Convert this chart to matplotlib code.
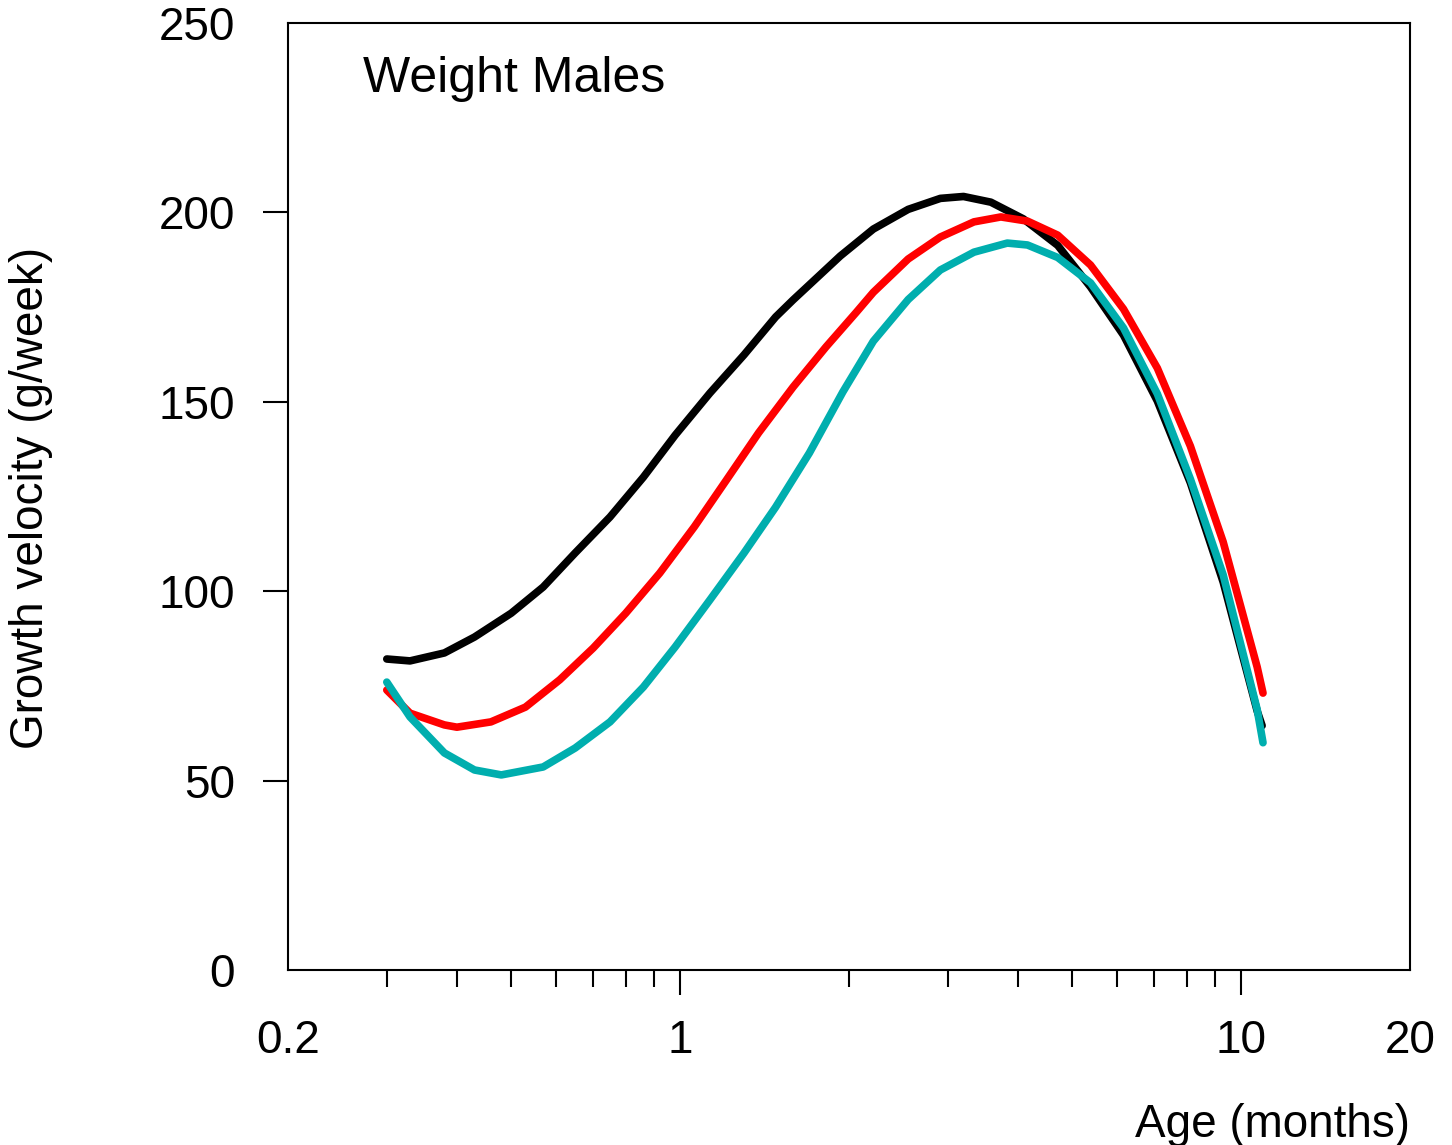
import matplotlib
matplotlib.use("Agg")
import matplotlib.pyplot as plt
from matplotlib.ticker import FixedLocator, NullFormatter

plt.rcParams['font.family'] = ['Liberation Sans', 'DejaVu Sans']

# curves (age in months, velocity in g/week)
black_age = [0.30, 0.33, 0.38, 0.43, 0.50, 0.57, 0.65, 0.75, 0.86, 0.98, 1.13, 1.30,
             1.48, 1.59, 1.93, 2.21, 2.55, 2.91, 3.20, 3.58, 4.09, 4.71, 5.39, 6.17,
             7.09, 8.12, 9.29, 10.68, 10.90]
black_vel = [82.1, 81.6, 83.7, 87.9, 94.2, 101.1, 110.1, 119.6, 130.1, 141.2, 152.3, 162.4,
             172.4, 176.9, 188.5, 195.6, 200.8, 203.7, 204.2, 202.7, 198.3, 191.3, 180.3, 167.6,
             150.2, 128.6, 102.4, 68.4, 64.5]

red_age = [0.30, 0.33, 0.38, 0.40, 0.46, 0.53, 0.61, 0.70, 0.80, 0.92, 1.06, 1.21,
           1.38, 1.59, 1.82, 2.06, 2.21, 2.55, 2.91, 3.34, 3.73, 4.16, 4.71, 5.39,
           6.17, 7.09, 8.12, 9.29, 10.68, 10.94]
red_vel = [73.9, 67.8, 64.7, 64.1, 65.5, 69.4, 76.6, 85.0, 94.2, 104.8, 117.0, 129.4,
           141.8, 153.9, 164.5, 173.6, 178.9, 187.7, 193.5, 197.5, 198.8, 197.7, 194.0, 186.1,
           174.5, 158.9, 138.3, 113.0, 80.0, 73.1]

teal_age = [0.30, 0.33, 0.38, 0.43, 0.48, 0.57, 0.65, 0.75, 0.86, 0.98, 1.13, 1.30,
            1.48, 1.70, 1.95, 2.21, 2.55, 2.91, 3.34, 3.83, 4.16, 4.71, 5.39, 6.17,
            7.09, 8.12, 9.29, 10.68, 10.94]
teal_vel = [76.0, 66.8, 57.3, 52.8, 51.5, 53.6, 58.6, 65.5, 74.7, 85.3, 97.7, 110.1,
            122.2, 136.5, 152.6, 166.0, 177.0, 184.8, 189.5, 191.9, 191.4, 188.1, 181.4, 169.5,
            152.1, 129.6, 104.3, 68.8, 60.0]

x_major = [0.2, 1, 10, 20]
x_major_labels = ["0.2", "1", "10", "20"]
x_minor = [0.3, 0.4, 0.5, 0.6, 0.7, 0.8, 0.9, 2, 3, 4, 5, 6, 7, 8, 9]
y_ticks = [0, 50, 100, 150, 200, 250]

fig = plt.figure(figsize=(14.52, 11.45), dpi=100)
ax = fig.add_axes([288 / 1452, 1 - 970 / 1145, 1122 / 1452, 947 / 1145])

lw = 5.5
ax.plot(black_age, black_vel, color="black", lw=lw, solid_capstyle="round", solid_joinstyle="round")
ax.plot(red_age, red_vel, color="#FF0000", lw=lw, solid_capstyle="round", solid_joinstyle="round")
ax.plot(teal_age, teal_vel, color="#00AEAE", lw=lw, solid_capstyle="round", solid_joinstyle="round")

ax.set_xscale("log")
ax.set_xlim(0.2, 20)
ax.set_ylim(0, 250)

ax.xaxis.set_major_locator(FixedLocator(x_major))
ax.set_xticklabels(x_major_labels)
ax.xaxis.set_minor_locator(FixedLocator(x_minor))
ax.xaxis.set_minor_formatter(NullFormatter())
ax.set_yticks(y_ticks)
ax.set_yticklabels([str(v) for v in y_ticks])

ax.tick_params(axis="x", which="major", length=18, width=1.5, pad=17, labelsize=33)
ax.tick_params(axis="x", which="minor", length=12, width=1.5)
ax.tick_params(axis="y", length=18, width=1.5, pad=20, labelsize=33)

# ticks at the box corners are not drawn in the original
for t in [ax.xaxis.get_major_ticks()[0], ax.xaxis.get_major_ticks()[-1],
          ax.yaxis.get_major_ticks()[0], ax.yaxis.get_major_ticks()[-1]]:
    t.tick1line.set_visible(False)

for s in ax.spines.values():
    s.set_linewidth(1.5)

ax.text(363 / 1452, 1 - 92 / 1145, "Weight Males", transform=fig.transFigure,
        fontsize=36, ha="left", va="baseline")
fig.text(31 / 1452, 1 - 498 / 1145, "Growth velocity (g/week)", rotation=90,
         fontsize=33, ha="center", va="center")
fig.text(1410 / 1452, 1 - 1137 / 1145, "Age (months)", fontsize=33,
         ha="right", va="baseline")

fig.savefig("out.png", dpi=100)
